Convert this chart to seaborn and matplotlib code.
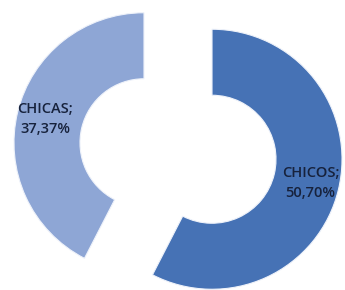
import matplotlib
matplotlib.use("Agg")
import matplotlib.pyplot as plt
import seaborn as sns

categories = ["CHICOS", "CHICAS"]
values = [50.70, 37.37]
value_labels = ["50,70%", "37,37%"]
colors = ["#4672B5", "#8EA6D5"]

sns.set_theme(style="white")
plt.rcParams['font.family'] = ['Open Sans', 'DejaVu Sans']

fig = plt.figure(figsize=(3.45, 2.9), dpi=100)
ax = fig.add_axes([0, 0, 1, 1])

labels = [f"{c};\n{v}" for c, v in zip(categories, value_labels)]
wedges, texts = ax.pie(
    values,
    labels=labels,
    colors=colors,
    startangle=90,
    counterclock=False,
    explode=[35, 35],
    radius=130,
    center=(178, 139),
    labeldistance=0.78,
    wedgeprops=dict(width=66, edgecolor="#eef2fa", linewidth=0.8),
    textprops=dict(ha="center", va="center", fontsize=10.5, color="#17223c",
                   linespacing=1.5, fontweight="semibold"),
)
ax.set_xlim(0, 345)
ax.set_ylim(0, 290)
ax.set_aspect("equal")
ax.axis("off")
fig.savefig("out.png", dpi=100, facecolor="white")
